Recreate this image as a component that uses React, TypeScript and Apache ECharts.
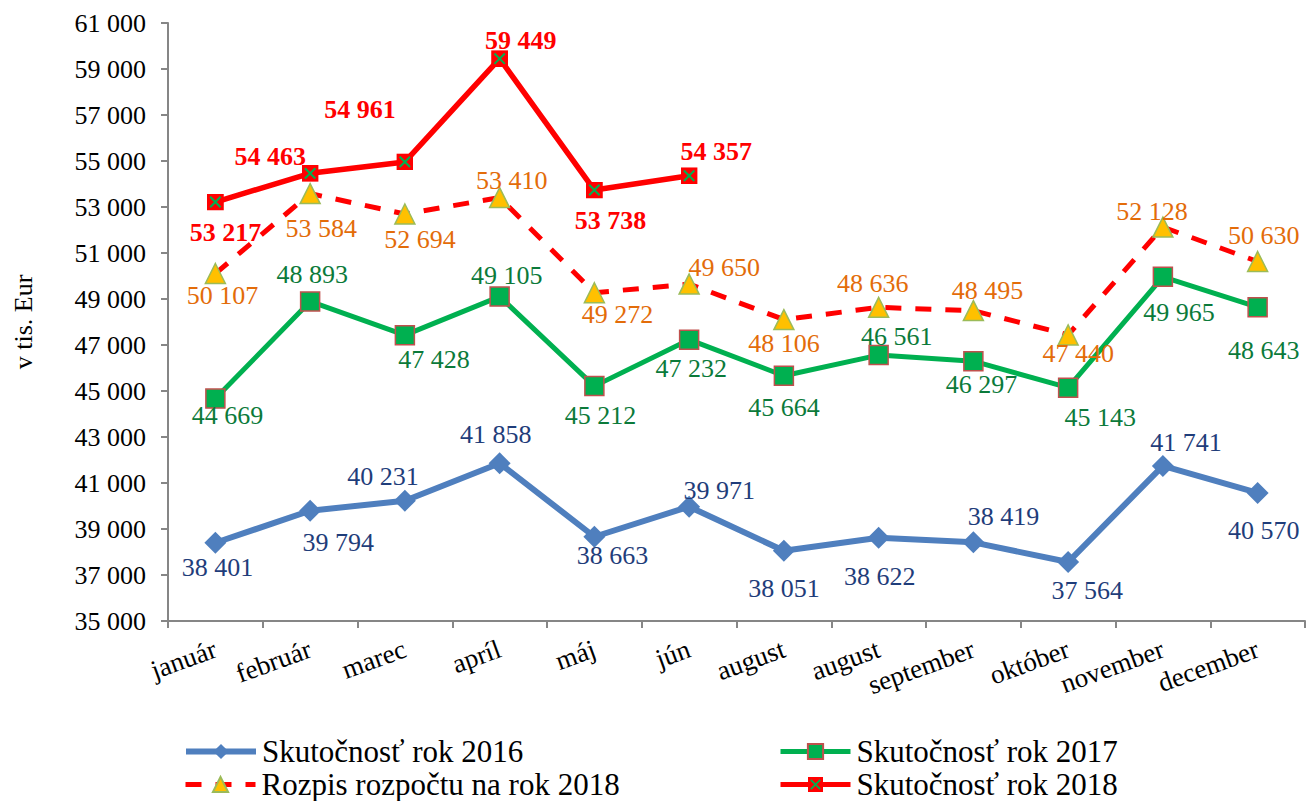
import React, { useEffect, useRef } from "react";
import * as echarts from "echarts";

const categories = ["január", "február", "marec", "apríl", "máj", "jún", "august", "august", "september", "október", "november", "december"];
const skut2016 = [38401, 39794, 40231, 41858, 38663, 39971, 38051, 38622, 38419, 37564, 41741, 40570];
const skut2017 = [44669, 48893, 47428, 49105, 45212, 47232, 45664, 46561, 46297, 45143, 49965, 48643];
const rozpis2018 = [50107, 53584, 52694, 53410, 49272, 49650, 48106, 48636, 48495, 47440, 52128, 50630];
const skut2018 = [53217, 54463, 54961, 59449, 53738, 54357];
const seriesNames = ["Skutočnosť rok 2016", "Skutočnosť rok 2017", "Rozpis rozpočtu na rok 2018", "Skutočnosť rok 2018"];
const yMin = 35000;
const yMax = 61000;
const yInterval = 2000;
const yName = "v tis. Eur";

// label placement (px offsets from marker centre)
const off2016 = [[2, 25], [28, 32], [-22, -24], [-4, -29], [18, 19], [30, -16], [0, 38], [1, 39], [30, -26], [19, 28], [23, -23], [6, 38]];
const off2017 = [[12, 17], [2, -27], [29, 24], [7, -21], [6, 29], [2, 29], [0, 32], [18, -19], [8, 23], [32, 30], [16, 36], [6, 43]];
const offRozpis = [[7, 22], [11, 35], [15, 25], [12, -17], [23, 22], [35, -17], [0, 24], [-6, -24], [14, -20], [10, 19], [-11, -16], [6, -26]];
const off2018 = [[10, 30], [-40, -17], [-45, -52], [21, -18], [16, 30], [27, -24]];

const FONT = "Liberation Serif";

const fmt = (v: number) => `${Math.floor(v / 1000)} ${String(v % 1000).padStart(3, "0")}`;

const crossSvg =
  '<svg xmlns="http://www.w3.org/2000/svg" width="18" height="18" viewBox="0 0 18 18">' +
  '<rect x="0" y="0" width="18" height="18" fill="#FF0000"/>' +
  '<line x1="3.5" y1="3.5" x2="14.5" y2="14.5" stroke="#00B050" stroke-width="2.2"/>' +
  '<line x1="14.5" y1="3.5" x2="3.5" y2="14.5" stroke="#00B050" stroke-width="2.2"/>' +
  "</svg>";
const crossSymbol = "image://data:image/svg+xml;charset=utf-8," + encodeURIComponent(crossSvg);

function items(values: number[], offsets: number[][]) {
  return values.map((v, i) => ({
    value: v,
    label: { offset: offsets[i] },
  }));
}

export default function App() {
  const ref = useRef<HTMLDivElement>(null);
  useEffect(() => {
    if (!ref.current) return;
    const chart = echarts.init(ref.current, undefined, { renderer: "svg" });
    const labelBase = (color: string, bold = false) => ({
      show: true,
      position: "inside" as const,
      formatter: (p: any) => fmt(p.value),
      fontFamily: FONT,
      fontSize: 26,
      fontWeight: bold ? ("bold" as const) : ("normal" as const),
      color,
    });
    const legendBase = {
      itemWidth: 70,
      itemHeight: 19,
      itemGap: 8,
      textStyle: { fontFamily: FONT, fontSize: 31, color: "#000", padding: [0, 0, 0, 1] },
      selectedMode: false as const,
    };
    chart.setOption({
      animation: false,
      backgroundColor: "#fff",
      grid: { left: 168, right: 8, top: 23, bottom: 180 },
      legend: [
        { ...legendBase, left: 178, top: 731, data: [seriesNames[0]], lineStyle: { width: 6 } },
        { ...legendBase, left: 773, top: 731, data: [seriesNames[1]], lineStyle: { width: 5 } },
        { ...legendBase, left: 178, top: 764, data: [seriesNames[2]], lineStyle: { width: 5 } },
        { ...legendBase, left: 773, top: 764, data: [seriesNames[3]], lineStyle: { width: 5 } },
      ],
      xAxis: {
        type: "category",
        data: categories,
        boundaryGap: true,
        axisLine: { lineStyle: { color: "#868686", width: 2 } },
        axisTick: { show: true, length: 7, lineStyle: { color: "#868686", width: 2 } },
        axisLabel: {
          rotate: 20,
          interval: 0,
          margin: 27,
          fontFamily: FONT,
          fontSize: 27,
          color: "#000",
        },
      },
      yAxis: {
        type: "value",
        min: yMin,
        max: yMax,
        interval: yInterval,
        name: yName,
        nameLocation: "middle",
        nameGap: 132,
        nameTextStyle: { fontFamily: FONT, fontSize: 26, color: "#000" },
        axisLine: { show: true, lineStyle: { color: "#868686", width: 2 } },
        axisTick: { show: true, length: 7, lineStyle: { color: "#868686", width: 2 } },
        splitLine: { show: false },
        axisLabel: {
          margin: 22,
          fontFamily: FONT,
          fontSize: 26,
          color: "#000",
          formatter: (v: number) => fmt(v),
        },
      },
      series: [
        {
          name: seriesNames[0],
          type: "line",
          data: items(skut2016, off2016),
          symbol: "diamond",
          symbolSize: 22,
          itemStyle: { color: "#4F7FBE" },
          lineStyle: { color: "#4F7FBE", width: 6 },
          label: labelBase("#1F3D7A"),
        },
        {
          name: seriesNames[1],
          type: "line",
          data: items(skut2017, off2017),
          symbol: "rect",
          symbolSize: 19,
          itemStyle: { color: "#00B050", borderColor: "#C0504D", borderWidth: 1.5 },
          lineStyle: { color: "#00B050", width: 5 },
          label: labelBase("#0B7A3A"),
        },
        {
          name: seriesNames[2],
          type: "line",
          data: items(rozpis2018, offRozpis),
          symbol: "triangle",
          symbolSize: 20,
          itemStyle: { color: "#FFC000", borderColor: "#9BBB59", borderWidth: 1.5 },
          lineStyle: { color: "#FF0000", width: 5, type: [16, 14] },
          label: labelBase("#E36C09"),
        },
        {
          name: seriesNames[3],
          type: "line",
          data: items(skut2018, off2018),
          symbol: crossSymbol,
          symbolSize: 17,
          itemStyle: { color: "#FF0000" },
          lineStyle: { color: "#FF0000", width: 5.5 },
          label: labelBase("#FF0000", true),
        },
      ],
    });
    return () => chart.dispose();
  }, []);
  return <div ref={ref} style={{ position: "fixed", left: 0, top: 0, width: 1313, height: 801 }} />;
}
